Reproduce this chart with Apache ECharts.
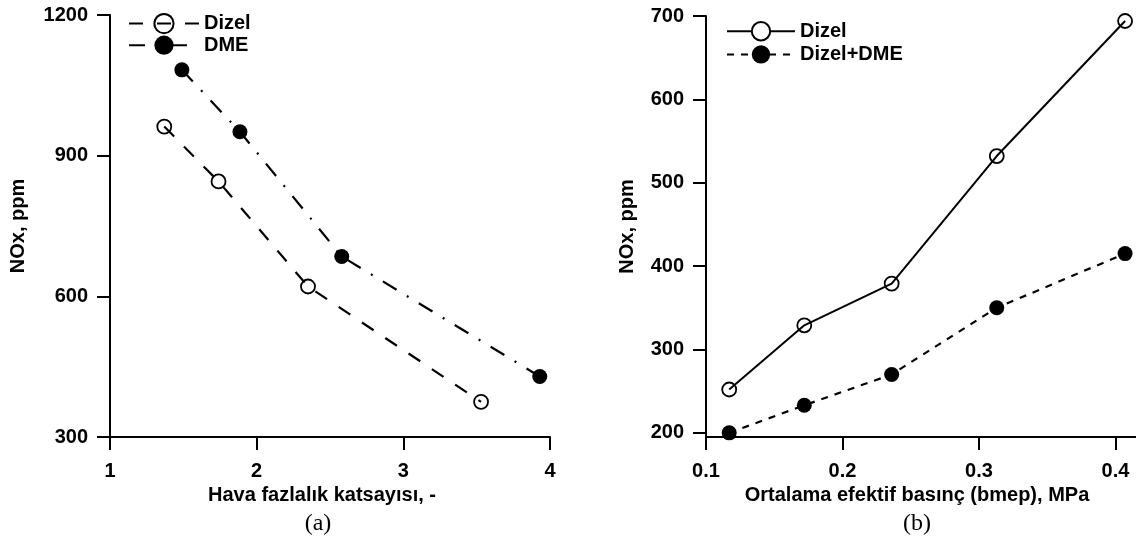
<!DOCTYPE html>
<html>
<head>
<meta charset="utf-8">
<script src="https://cdn.jsdelivr.net/npm/echarts@6/dist/echarts.min.js"></script>
<style>
  html, body { margin: 0; padding: 0; background: #fff; }
  #chart { width: 1136px; height: 537px; }
</style>
</head>
<body>
<div id="chart"></div>
<script>
// Panel (a): NOx against excess air ratio
const lambdaDizel = [1.37, 1.74, 2.35, 3.53];
const noxDizelA   = [962, 845, 621, 375];
const lambdaDME   = [1.49, 1.886, 2.58, 3.93];
const noxDME      = [1083, 951, 685, 429];
const ticksAx = [1, 2, 3, 4];
const ticksAy = [300, 600, 900, 1200];

// Panel (b): NOx against brake mean effective pressure
const bmep        = [0.117, 0.172, 0.236, 0.313, 0.407];
const noxDizelB   = [252, 329, 379, 532, 694];
const noxDizelDME = [200, 233, 270, 350, 415];
const ticksBx = [0.1, 0.2, 0.3, 0.4];
const ticksBy = [200, 300, 400, 500, 600, 700];

const zip = (xs, ys) => xs.map((x, i) => [x, ys[i]]);
const SANS = "'Liberation Sans', Arial, Helvetica, sans-serif";
const SERIF = "'Liberation Serif', 'Times New Roman', serif";
const boldText = { color: '#000', fontFamily: SANS, fontWeight: 'bold', fontSize: 20 };
const plain = v => String(v);

// series names carry a panel suffix so each legend finds its own series
const legendName = name => name.split('|')[0];

function axis(extra) {
  return Object.assign({
    type: 'value',
    axisLine: { show: true, onZero: false, lineStyle: { color: '#000', width: 2 } },
    splitLine: { show: false },
    nameLocation: 'middle',
    nameTextStyle: Object.assign({}, boldText)
  }, extra);
}
const ticks = values => ({ show: true, inside: false, length: 13, lineStyle: { color: '#000', width: 2 }, customValues: values });
const labels = (values, margin) => Object.assign({ margin: margin, customValues: values, formatter: plain }, boldText);

const option = {
  animation: false,
  backgroundColor: '#fff',
  grid: [
    { left: 110, top: 15, width: 440, height: 422 },
    { left: 706, top: 16, width: 430, height: 421 }
  ],
  xAxis: [
    axis({
      gridIndex: 0, min: 1, max: 4, interval: 1,
      name: 'Hava fazlalık katsayısı, -', nameGap: 48,
      nameTextStyle: Object.assign({}, boldText, { padding: [0, 16, 0, 0] }),
      axisTick: ticks(ticksAx),
      axisLabel: labels(ticksAx, 24)
    }),
    axis({
      gridIndex: 1, min: 0.1, max: 0.415,
      name: 'Ortalama efektif basınç (bmep), MPa', nameGap: 48,
      nameTextStyle: Object.assign({}, boldText, { padding: [0, 8, 0, 0] }),
      axisTick: ticks(ticksBx),
      axisLabel: labels(ticksBx, 24)
    })
  ],
  yAxis: [
    axis({
      gridIndex: 0, min: 300, max: 1200, interval: 300,
      name: 'NOx, ppm', nameGap: 82,
      axisTick: ticks(ticksAy),
      axisLabel: labels(ticksAy, 22)
    }),
    axis({
      gridIndex: 1, min: 195, max: 700,
      name: 'NOx, ppm', nameGap: 69,
      axisTick: ticks(ticksBy),
      axisLabel: labels(ticksBy, 22)
    })
  ],
  legend: [
    {
      left: 128, top: 13, orient: 'vertical', padding: 0,
      itemWidth: 70, itemHeight: 24, itemGap: 1,
      selectedMode: false, formatter: legendName,
      textStyle: Object.assign({}, boldText),
      data: ['Dizel|a', 'DME|a']
    },
    {
      left: 726, top: 21, orient: 'vertical', padding: 0,
      itemWidth: 68, itemHeight: 23, itemGap: 3,
      selectedMode: false, formatter: legendName,
      textStyle: Object.assign({}, boldText),
      data: [{ name: 'Dizel|b', itemStyle: { color: '#fff' } }, 'Dizel+DME|b']
    }
  ],
  series: [
    {
      name: 'Dizel|a', type: 'line', xAxisIndex: 0, yAxisIndex: 0,
      data: zip(lambdaDizel, noxDizelA),
      symbol: 'circle', symbolSize: 14,
      lineStyle: { color: '#000', width: 2.2, type: [14, 14] },
      itemStyle: { color: 'rgba(255,255,255,0)', borderColor: '#000', borderWidth: 1.8 }
    },
    {
      name: 'DME|a', type: 'line', xAxisIndex: 0, yAxisIndex: 0,
      data: zip(lambdaDME, noxDME),
      symbol: 'circle', symbolSize: 15,
      lineStyle: { color: '#000', width: 2.2, type: [16, 12, 2, 12] },
      itemStyle: { color: '#000', borderColor: '#000', borderWidth: 0 }
    },
    {
      name: 'Dizel|b', type: 'line', xAxisIndex: 1, yAxisIndex: 1,
      data: zip(bmep, noxDizelB),
      symbol: 'circle', symbolSize: 14,
      lineStyle: { color: '#000', width: 2, type: 'solid' },
      itemStyle: { color: 'rgba(255,255,255,0)', borderColor: '#000', borderWidth: 1.8 }
    },
    {
      name: 'Dizel+DME|b', type: 'line', xAxisIndex: 1, yAxisIndex: 1,
      data: zip(bmep, noxDizelDME),
      symbol: 'circle', symbolSize: 15,
      lineStyle: { color: '#000', width: 2.2, type: [7, 7] },
      itemStyle: { color: '#000', borderColor: '#000', borderWidth: 0 }
    }
  ],
  graphic: [
    { type: 'text', x: 318, y: 524, style: { text: '(a)', fontFamily: SERIF, fontSize: 24, fill: '#000', align: 'center', verticalAlign: 'middle' } },
    { type: 'text', x: 917, y: 524, style: { text: '(b)', fontFamily: SERIF, fontSize: 24, fill: '#000', align: 'center', verticalAlign: 'middle' } }
  ]
};

const chart = echarts.init(document.getElementById('chart'), null, { renderer: 'canvas' });
chart.setOption(option);
</script>
</body>
</html>
